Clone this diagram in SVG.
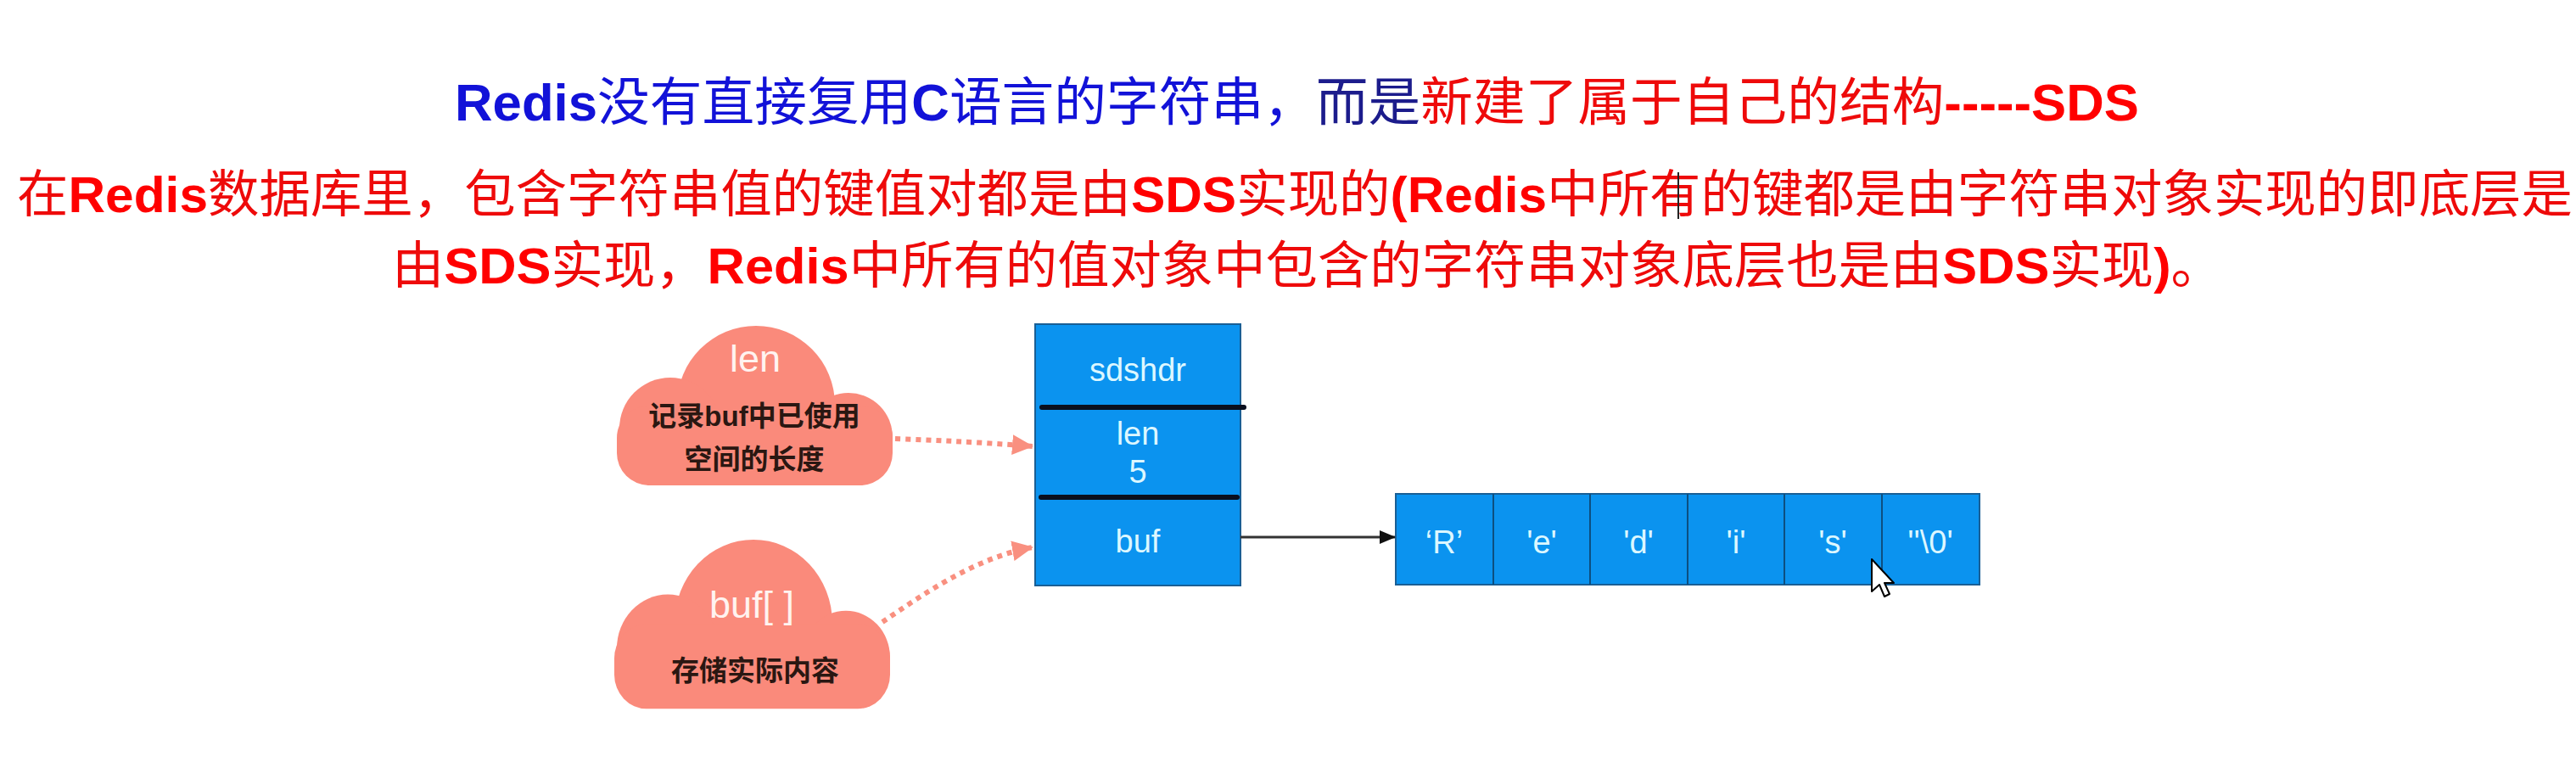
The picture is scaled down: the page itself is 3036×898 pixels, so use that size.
<svg xmlns="http://www.w3.org/2000/svg" width="3036" height="898" viewBox="0 0 3036 898">
<style>
.lb{font-family:"Liberation Sans",Arial,sans-serif;font-weight:bold}
.cjk{font-family:"Noto Sans CJK SC",sans-serif;font-weight:normal}
.blue{fill:#1212d8}
.navy{fill:#1c1c8c}
.red{fill:#ee0a0a}
.redb{fill:#ff0000}
.cloud{fill:#fa8a7b}
.ctitle{font-family:"Liberation Sans",Arial,sans-serif;font-size:45px;fill:#fff3f0;text-anchor:middle}
.cdesc{font-family:"Liberation Sans","Noto Sans CJK SC",sans-serif;font-weight:bold;font-size:33px;fill:#2a1712;text-anchor:middle}
.box{fill:#0b93ef;stroke:#1a5f95;stroke-width:2}
.btxt{font-family:"Liberation Sans",Arial,sans-serif;font-size:38px;fill:#dcf7ff;text-anchor:middle}
.atxt{font-family:"Liberation Sans",Arial,sans-serif;font-size:38px;fill:#dcf7ff;text-anchor:middle}
.div{stroke:#0a0f1e;stroke-width:6;stroke-linecap:round}
.cell{stroke:#0d4f80;stroke-width:2}
.dot{fill:none;stroke:#f99080;stroke-width:6;stroke-dasharray:6 6}
</style>
<defs>
<marker id="salmon" markerUnits="userSpaceOnUse" markerWidth="26" markerHeight="24" refX="24" refY="12" orient="auto">
<path d="M0,0 L25,12 L0,24 Z" fill="#f99080"/>
</marker>
<marker id="blk" markerUnits="userSpaceOnUse" markerWidth="20" markerHeight="20" refX="18" refY="10" orient="auto">
<path d="M0,2 L19,10 L0,18 Z" fill="#111"/>
</marker>
<g id="cloudShape">
<circle cx="891" cy="477" r="93"/>
<circle cx="790" cy="505" r="60"/>
<circle cx="1000" cy="515" r="52"/>
<rect x="727" y="478" width="325" height="94" rx="38"/>
</g>
</defs>
<rect width="3036" height="898" fill="#ffffff"/>

<g id="title">
<text x="536" y="142" font-size="61.5" textLength="1985" lengthAdjust="spacingAndGlyphs"><tspan class="lb blue">Redis</tspan><tspan class="cjk blue">没有直接复用</tspan><tspan class="lb blue">C</tspan><tspan class="cjk blue">语言的字符串，</tspan><tspan class="cjk navy">而是</tspan><tspan class="cjk red">新建了属于自己的结构</tspan><tspan class="lb redb">-----SDS</tspan></text>
<text x="20" y="250" font-size="60" textLength="3012" lengthAdjust="spacingAndGlyphs"><tspan class="cjk red">在</tspan><tspan class="lb redb">Redis</tspan><tspan class="cjk red">数据库里，包含字符串值的键值对都是由</tspan><tspan class="lb redb">SDS</tspan><tspan class="cjk red">实现的</tspan><tspan class="lb redb">(Redis</tspan><tspan class="cjk red">中所有的键都是由字符串对象实现的即底层是</tspan></text>
<text x="462" y="334" font-size="60" textLength="2158" lengthAdjust="spacingAndGlyphs"><tspan class="cjk red">由</tspan><tspan class="lb redb">SDS</tspan><tspan class="cjk red">实现，</tspan><tspan class="lb redb">Redis</tspan><tspan class="cjk red">中所有的值对象中包含的字符串对象底层也是由</tspan><tspan class="lb redb">SDS</tspan><tspan class="cjk red">实现</tspan><tspan class="lb redb">)</tspan><tspan class="cjk red">。</tspan></text>
<line x1="1978" y1="203" x2="1978" y2="258" stroke="#222" stroke-width="2"/>
</g>

<g id="cloud-len">
<use href="#cloudShape" class="cloud"/>
<text class="ctitle" x="890" y="438">len</text>
<text class="cdesc" x="889" y="502">记录buf中已使用</text>
<text class="cdesc" x="889" y="553">空间的长度</text>
</g>

<g id="cloud-buf">
<use href="#cloudShape" class="cloud" transform="translate(-3,637) scale(1,1.06) translate(0,-385)"/>
<text class="ctitle" x="886" y="728">buf[ ]</text>
<text class="cdesc" x="890" y="802">存储实际内容</text>
</g>

<g id="sdshdr">
<rect class="box" x="1220" y="382" width="242" height="308"/>
<line class="div" x1="1228" y1="480" x2="1466" y2="480"/>
<line class="div" x1="1227" y1="586" x2="1458" y2="586"/>
<text class="btxt" x="1341" y="449">sdshdr</text>
<text class="btxt" x="1341" y="524">len</text>
<text class="btxt" x="1341" y="569">5</text>
<text class="btxt" x="1341" y="651">buf</text>
</g>

<g id="array">
<rect class="box" x="1645" y="582" width="688" height="107"/>
<line class="cell" x1="1760" y1="582" x2="1760" y2="689"/>
<line class="cell" x1="1874" y1="582" x2="1874" y2="689"/>
<line class="cell" x1="1989" y1="582" x2="1989" y2="689"/>
<line class="cell" x1="2103" y1="582" x2="2103" y2="689"/>
<line class="cell" x1="2218" y1="582" x2="2218" y2="689"/>
<text class="atxt" x="1702" y="652">‘R’</text>
<text class="atxt" x="1817" y="652">'e'</text>
<text class="atxt" x="1931" y="652">'d'</text>
<text class="atxt" x="2046" y="652">'i'</text>
<text class="atxt" x="2160" y="652">'s'</text>
<text class="atxt" x="2275" y="652">''\0'</text>
</g>

<g id="connectors">
<path class="dot" d="M1055,517 Q1140,520 1217,526" marker-end="url(#salmon)"/>
<path class="dot" d="M1040,733 C1090,699 1150,657 1217,645" marker-end="url(#salmon)"/>
<line x1="1462" y1="633" x2="1644" y2="633" stroke="#333" stroke-width="3" marker-end="url(#blk)"/>
</g>

<g id="cursor">
<path d="M2206,659 L2206,697 L2215,689 L2221,703 L2227,700 L2221,687 L2232,687 Z" fill="#ffffff" stroke="#000" stroke-width="2" stroke-linejoin="round"/>
</g>
</svg>
